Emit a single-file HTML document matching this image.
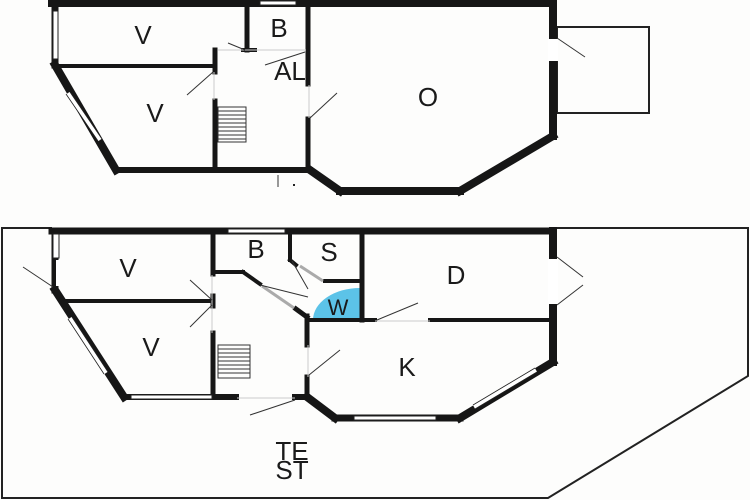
<!DOCTYPE html>
<html><head><style>
html,body{margin:0;padding:0;background:#fff;width:750px;height:500px;overflow:hidden}
svg{display:block}
text{font-family:"Liberation Sans",sans-serif;fill:#1a1a1a}
</style></head><body>
<svg width="750" height="500" viewBox="0 0 750 500" xmlns="http://www.w3.org/2000/svg">
<rect width="750" height="500" fill="#fdfdfc"/>
<polyline points="557,228 748,228 748,376 548,498 2,498 2,228 52,228" fill="none" stroke="#222" stroke-width="2"/>
<rect x="557" y="27" width="92" height="86" fill="none" stroke="#222" stroke-width="2"/>

<g stroke="#161616" fill="none" stroke-linecap="square">
<line x1="52" y1="3" x2="553" y2="3" stroke-width="8"/>
<line x1="55" y1="3" x2="55" y2="65" stroke-width="7"/>
<line x1="55" y1="65" x2="116" y2="170" stroke-width="8"/>
<line x1="116" y1="170" x2="310" y2="170" stroke-width="6"/>
<line x1="310" y1="170" x2="340" y2="191" stroke-width="8"/>
<line x1="340" y1="191" x2="460" y2="191" stroke-width="8"/>
<line x1="460" y1="191" x2="553" y2="136" stroke-width="8"/>
<line x1="553" y1="3" x2="553" y2="136" stroke-width="8"/>
<line x1="58" y1="66" x2="215" y2="66" stroke-width="4"/>
<line x1="215" y1="50" x2="215" y2="72" stroke-width="5"/>
<line x1="215" y1="101" x2="215" y2="168" stroke-width="5"/>
<line x1="247" y1="3" x2="247" y2="50" stroke-width="5"/>
<line x1="243" y1="50" x2="255" y2="50" stroke-width="4"/>
<line x1="308" y1="3" x2="308" y2="84" stroke-width="5"/>
<line x1="308" y1="119" x2="308" y2="170" stroke-width="5"/>
</g>
<rect x="53" y="11" width="5" height="48" fill="#fff" stroke="#222" stroke-width="1"/>
<rect x="260" y="1" width="36" height="4" fill="#fff" stroke="#222" stroke-width="1"/>
<line x1="68" y1="93" x2="100" y2="140" stroke="#fff" stroke-width="4"/>
<line x1="68" y1="93" x2="100" y2="140" stroke="#222" stroke-width="0.8" transform="translate(-2,1)"/>
<line x1="68" y1="93" x2="100" y2="140" stroke="#222" stroke-width="0.8" transform="translate(2,-1)"/>
<rect x="548" y="39" width="10" height="22" fill="#fff"/>
<line x1="218" y1="50" x2="306" y2="50" stroke="#ccc" stroke-width="1"/>
<line x1="214" y1="72" x2="214" y2="100" stroke="#ccc" stroke-width="1"/>
<line x1="309" y1="85" x2="309" y2="118" stroke="#ccc" stroke-width="1"/>
<g stroke="#333" stroke-width="1">
<line x1="228" y1="43" x2="245" y2="50"/>
<line x1="265" y1="65" x2="305" y2="52"/>
<line x1="187" y1="95" x2="213" y2="72"/>
<line x1="310" y1="118" x2="337" y2="93"/>
<line x1="557" y1="38" x2="585" y2="57"/>
<line x1="278" y1="175" x2="278" y2="187"/>
</g>
<rect x="293" y="184" width="2" height="2" fill="#222"/>
<g stroke="#333" stroke-width="1" fill="none">
<rect x="218" y="107" width="28" height="35"/>
<line x1="218" y1="111" x2="246" y2="111"/><line x1="218" y1="115" x2="246" y2="115"/>
<line x1="218" y1="119" x2="246" y2="119"/><line x1="218" y1="123" x2="246" y2="123"/>
<line x1="218" y1="127" x2="246" y2="127"/><line x1="218" y1="131" x2="246" y2="131"/>
<line x1="218" y1="135" x2="246" y2="135"/><line x1="218" y1="139" x2="246" y2="139"/>
</g>

<path d="M313,320 A47,32 0 0 1 360,288 L360,320 Z" fill="#5cc3e8"/>
<g stroke="#161616" fill="none" stroke-linecap="square">
<line x1="52" y1="231" x2="553" y2="231" stroke-width="7"/>
<line x1="55" y1="231" x2="55" y2="290" stroke-width="7"/>
<line x1="55" y1="290" x2="124" y2="397" stroke-width="8"/>
<line x1="124" y1="397" x2="236" y2="397" stroke-width="6"/>
<line x1="295" y1="397" x2="307" y2="397" stroke-width="6"/>
<line x1="307" y1="397" x2="335" y2="418" stroke-width="8"/>
<line x1="335" y1="418" x2="460" y2="418" stroke-width="7"/>
<line x1="460" y1="418" x2="553" y2="362" stroke-width="8"/>
<line x1="553" y1="231" x2="553" y2="362" stroke-width="8"/>
<line x1="62" y1="301" x2="213" y2="301" stroke-width="4"/>
<line x1="213" y1="231" x2="213" y2="274" stroke-width="5"/>
<line x1="213" y1="296" x2="213" y2="306" stroke-width="5"/>
<line x1="213" y1="333" x2="213" y2="397" stroke-width="5"/>
<line x1="213" y1="272" x2="243" y2="272" stroke-width="4"/>
<line x1="243" y1="272" x2="260" y2="284" stroke-width="4"/>
<line x1="296" y1="309" x2="307" y2="317" stroke-width="5"/>
<line x1="290" y1="231" x2="290" y2="260" stroke-width="4"/>
<line x1="290" y1="260" x2="296" y2="265" stroke-width="4"/>
<line x1="325" y1="281" x2="360" y2="281" stroke-width="4"/>
<line x1="362" y1="231" x2="362" y2="320" stroke-width="5"/>
<line x1="307" y1="316" x2="307" y2="345" stroke-width="5"/>
<line x1="307" y1="377" x2="307" y2="397" stroke-width="5"/>
<line x1="307" y1="320" x2="375" y2="320" stroke-width="4"/>
<line x1="430" y1="320" x2="553" y2="320" stroke-width="4"/>
</g>
<rect x="228" y="229" width="57" height="4" fill="#fff" stroke="#222" stroke-width="1"/>
<rect x="53" y="234" width="6" height="24" fill="#fff" stroke="#222" stroke-width="1"/>
<rect x="56" y="260" width="4" height="26" fill="#fff"/>
<rect x="131" y="395" width="81" height="4" fill="#fff" stroke="#222" stroke-width="1"/>
<rect x="354" y="416" width="82" height="4" fill="#fff" stroke="#222" stroke-width="1"/>
<rect x="548" y="259" width="10" height="45" fill="#fff"/>
<line x1="70" y1="318" x2="106" y2="373" stroke="#fff" stroke-width="4"/>
<line x1="68" y1="319" x2="104" y2="374" stroke="#222" stroke-width="0.8"/>
<line x1="72" y1="317" x2="108" y2="372" stroke="#222" stroke-width="0.8"/>
<line x1="474" y1="407" x2="536" y2="370" stroke="#fff" stroke-width="4"/>
<line x1="473" y1="405" x2="535" y2="368" stroke="#222" stroke-width="0.8"/>
<line x1="475" y1="409" x2="537" y2="372" stroke="#222" stroke-width="0.8"/>
<line x1="262" y1="286" x2="294" y2="308" stroke="#aaa" stroke-width="3"/>
<line x1="300" y1="266" x2="323" y2="281" stroke="#aaa" stroke-width="3"/>
<g stroke="#ccc" stroke-width="1">
<line x1="212" y1="275" x2="212" y2="333"/>
<line x1="237" y1="398" x2="295" y2="398"/>
<line x1="308" y1="345" x2="308" y2="377"/>
<line x1="375" y1="321" x2="430" y2="321"/>
</g>
<g stroke="#333" stroke-width="1">
<line x1="23" y1="267" x2="53" y2="287"/>
<line x1="190" y1="280" x2="212" y2="300"/>
<line x1="190" y1="327" x2="212" y2="305"/>
<line x1="260" y1="285" x2="308" y2="297"/>
<line x1="292" y1="261" x2="308" y2="289"/>
<line x1="377" y1="320" x2="418" y2="303"/>
<line x1="309" y1="375" x2="340" y2="350"/>
<line x1="250" y1="415" x2="295" y2="400"/>
<line x1="557" y1="257" x2="583" y2="277"/>
<line x1="557" y1="305" x2="583" y2="285"/>
</g>
<g stroke="#333" stroke-width="1" fill="none">
<rect x="218" y="345" width="32" height="33"/>
<line x1="218" y1="349" x2="250" y2="349"/><line x1="218" y1="353" x2="250" y2="353"/>
<line x1="218" y1="357" x2="250" y2="357"/><line x1="218" y1="361" x2="250" y2="361"/>
<line x1="218" y1="365" x2="250" y2="365"/><line x1="218" y1="369" x2="250" y2="369"/>
<line x1="218" y1="373" x2="250" y2="373"/>
</g>

<g font-size="26" text-anchor="middle">
<text x="143" y="44">V</text>
<text x="279" y="37">B</text>
<text x="290" y="80">AL</text>
<text x="155" y="122">V</text>
<text x="428" y="106">O</text>
<text x="128" y="277">V</text>
<text x="256" y="258">B</text>
<text x="329" y="261">S</text>
<text x="456" y="284">D</text>
<text x="338" y="315" font-size="22">W</text>
<text x="151" y="356">V</text>
<text x="407" y="376">K</text>
<text x="292" y="460">TE</text>
<text x="292" y="479">ST</text>
</g>
</svg>
</body></html>
